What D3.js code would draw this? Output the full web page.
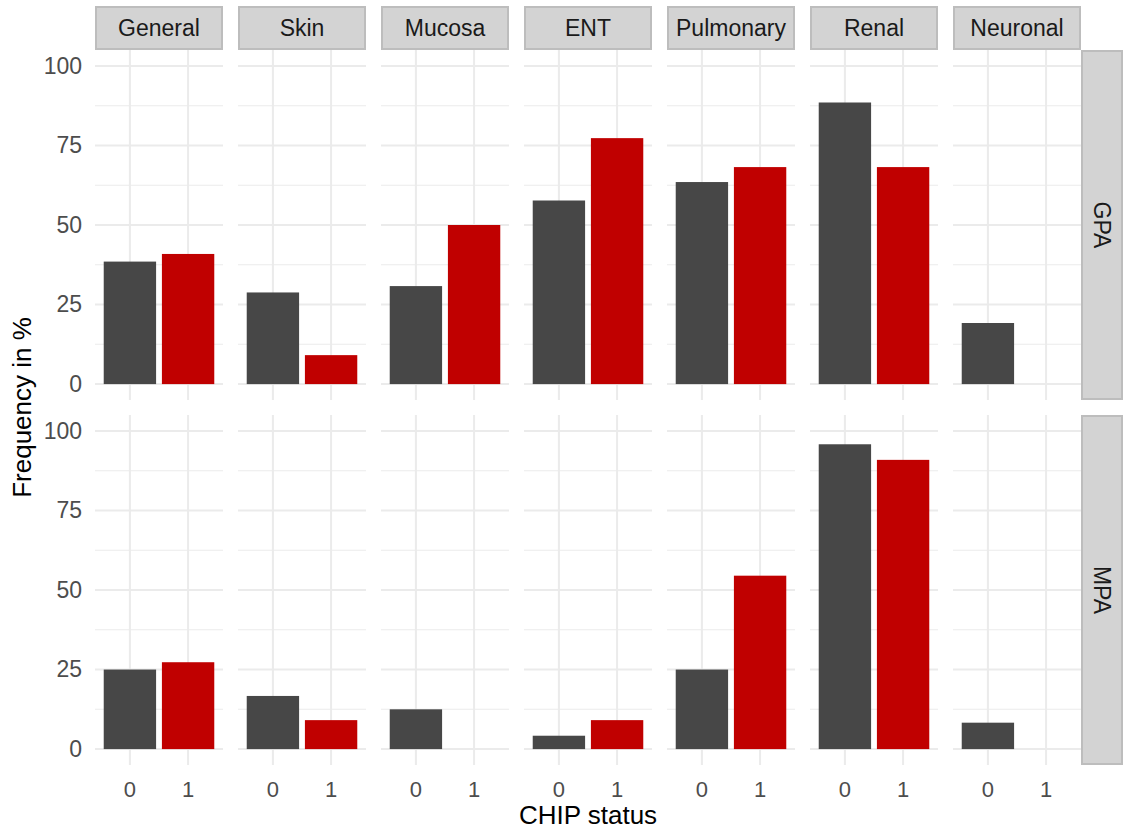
<!DOCTYPE html>
<html>
<head>
<meta charset="utf-8">
<script src="https://cdn.jsdelivr.net/npm/d3@7"></script>
<style>
  html, body { margin: 0; padding: 0; background: #fff; }
  svg { display: block; font-family: "Liberation Sans", Arial, sans-serif; }
</style>
</head>
<body>
<svg id="chart" width="1124" height="834"></svg>
<script>
// ---- data ----
const organs = ["General", "Skin", "Mucosa", "ENT", "Pulmonary", "Renal", "Neuronal"];
const groups = ["GPA", "MPA"];
const chipStatus = ["0", "1"];
const gpaChip0 = [38.5, 28.8, 30.8, 57.7, 63.5, 88.5, 19.2];
const gpaChip1 = [40.9, 9.1, 50.0, 77.3, 68.2, 68.2, 0];
const mpaChip0 = [25.0, 16.7, 12.5, 4.2, 25.0, 95.8, 8.3];
const mpaChip1 = [27.3, 9.1, 0, 9.1, 54.5, 90.9, 0];
const yTicks = [0, 25, 50, 75, 100];
const yMinor = [12.5, 37.5, 62.5, 87.5];
const barColors = ["#474747", "#C00000"];

const values = { GPA: [gpaChip0, gpaChip1], MPA: [mpaChip0, mpaChip1] };

// ---- layout ----
const svg = d3.select("#chart");
const panelLeft = 95, panelW = 128, gapX = 15;
const rowTops = [50, 415], panelH = 350;
const stripTop = 6, stripH = 44;
const rStripX = 1081, rStripW = 42;

const x = d3.scaleBand().domain(chipStatus).range([0, panelW])
  .paddingInner(0.1).paddingOuter(0.15);

groups.forEach((g, ri) => {
  const top = rowTops[ri];
  const y = d3.scaleLinear().domain([-5, 105]).range([top + panelH, top]);

  organs.forEach((org, ci) => {
    const left = panelLeft + ci * (panelW + gapX);
    const p = svg.append("g").attr("transform", `translate(${left},0)`);

    // minor grid
    p.selectAll("line.minor").data(yMinor).join("line")
      .attr("x1", 0).attr("x2", panelW)
      .attr("y1", d => y(d)).attr("y2", d => y(d))
      .attr("stroke", "#EBEBEB").attr("stroke-width", 1.1);
    // major grid
    p.selectAll("line.majy").data(yTicks).join("line")
      .attr("x1", 0).attr("x2", panelW)
      .attr("y1", d => y(d)).attr("y2", d => y(d))
      .attr("stroke", "#EBEBEB").attr("stroke-width", 2);
    p.selectAll("line.majx").data(chipStatus).join("line")
      .attr("x1", d => x(d) + x.bandwidth() / 2).attr("x2", d => x(d) + x.bandwidth() / 2)
      .attr("y1", top).attr("y2", top + panelH)
      .attr("stroke", "#EBEBEB").attr("stroke-width", 2);

    // bars
    const data = chipStatus.map((c, k) => ({ c, v: values[g][k][ci], k }));
    p.selectAll("rect.bar").data(data).join("rect")
      .attr("x", d => x(d.c)).attr("width", x.bandwidth())
      .attr("y", d => y(d.v)).attr("height", d => y(0) - y(d.v))
      .attr("fill", d => barColors[d.k]);

    // x axis (bottom row only)
    if (ri === groups.length - 1) {
      const ax = p.append("g").attr("transform", `translate(0,${top + panelH})`)
        .call(d3.axisBottom(x).tickSize(0).tickPadding(16));
      ax.select(".domain").remove();
      ax.selectAll("text").attr("font-size", 22).attr("fill", "#4D4D4D")
        .attr("font-family", "Liberation Sans, Arial, sans-serif");
    }

    // top strips
    if (ri === 0) {
      p.append("rect").attr("x", 1).attr("y", stripTop + 1)
        .attr("width", panelW - 2).attr("height", stripH - 2)
        .attr("fill", "#D3D3D3").attr("stroke", "#BDBDBD").attr("stroke-width", 2);
      p.append("text").attr("x", panelW / 2).attr("y", stripTop + stripH / 2)
        .attr("dy", "0.35em").attr("text-anchor", "middle")
        .attr("font-size", 23).attr("fill", "#1A1A1A").text(org);
    }
  });

  // y axis
  const ay = svg.append("g").attr("transform", `translate(${panelLeft},0)`)
    .call(d3.axisLeft(y).tickValues(yTicks).tickSize(0).tickPadding(13));
  ay.select(".domain").remove();
  ay.selectAll("text").attr("font-size", 23).attr("fill", "#4D4D4D")
    .attr("font-family", "Liberation Sans, Arial, sans-serif");

  // right strip
  svg.append("rect").attr("x", rStripX + 1).attr("y", top + 1)
    .attr("width", rStripW - 2).attr("height", panelH - 2)
    .attr("fill", "#D3D3D3").attr("stroke", "#BDBDBD").attr("stroke-width", 2);
  svg.append("text")
    .attr("transform", `translate(${rStripX + rStripW / 2},${top + panelH / 2}) rotate(90)`)
    .attr("dy", "0.35em").attr("text-anchor", "middle")
    .attr("font-size", 23).attr("fill", "#1A1A1A").text(g);
});

// axis titles
const totalRight = panelLeft + organs.length * panelW + (organs.length - 1) * gapX;
svg.append("text").attr("x", (panelLeft + totalRight) / 2).attr("y", 824)
  .attr("text-anchor", "middle").attr("font-size", 26).attr("fill", "#000")
  .text("CHIP status");
svg.append("text")
  .attr("transform", `translate(31,${(rowTops[0] + rowTops[1] + panelH) / 2}) rotate(-90)`)
  .attr("text-anchor", "middle").attr("font-size", 26).attr("fill", "#000")
  .text("Frequency in %");
</script>
</body>
</html>
